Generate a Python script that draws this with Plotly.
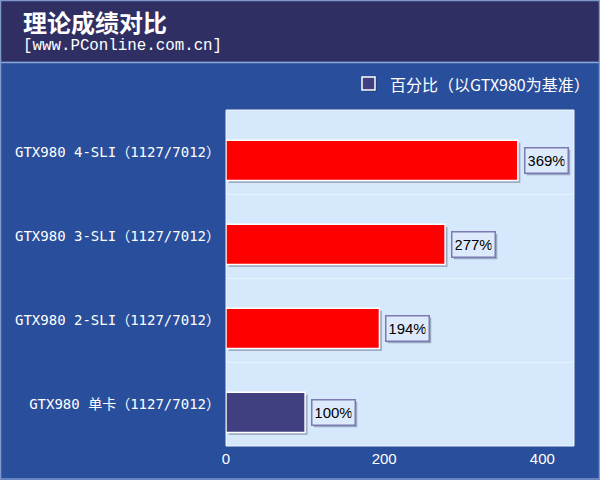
import plotly.graph_objects as go

# ---- data ----
categories = ["GTX980 单卡（1127/7012）", "GTX980 2-SLI（1127/7012）",
              "GTX980 3-SLI（1127/7012）", "GTX980 4-SLI（1127/7012）"]
percent_values = [100, 194, 277, 369]
bar_colors = ["#403F7F", "#FF0000", "#FF0000", "#FF0000"]
x_ticks = [0, 200, 400]
title_text = "理论成绩对比"
subtitle_text = "[www.PConline.com.cn]"
legend_text = "百分比（以GTX980为基准）"

# ---- layout constants ----
W, H = 600, 480
L, R, T, B = 226, 26, 110, 34
PW, PH = W - L - R, H - T - B
XMAX = 440
BAR_W = 0.477
SHIFT = -0.1  # bars sit slightly below band centres

def px2x(px):
    return (px - L) / PW

def px2y(py):
    return (H - B - py) / PH

ypos = list(range(len(categories)))
ux = XMAX / PW          # data units per pixel along x
uy = 4.0 / PH           # data units per pixel along y

fig = go.Figure()

# bar shadows
fig.add_trace(go.Bar(
    y=ypos, x=percent_values, base=2.5 * ux, orientation="h",
    width=BAR_W, offset=SHIFT - BAR_W / 2 - 2.5 * uy,
    marker=dict(color="rgba(90,100,130,0.45)", line=dict(width=0)),
    hoverinfo="skip", showlegend=False))

# bars
fig.add_trace(go.Bar(
    y=ypos, x=percent_values, orientation="h",
    width=BAR_W, offset=SHIFT - BAR_W / 2,
    marker=dict(color=bar_colors, line=dict(color="white", width=1.5)),
    showlegend=False))

# value labels
label_font = dict(family="Liberation Sans Narrow, Arial Narrow, Liberation Sans",
                  size=15, color="black")
for yv, v in zip(ypos, percent_values):
    txt = f"{v}%"
    w_box = 9 * len(txt)
    fig.add_annotation(x=v, y=yv + SHIFT, xref="x", yref="y", text="&nbsp;",
                       showarrow=False, xanchor="left", xshift=8, yshift=-2,
                       width=w_box, height=18,
                       font=dict(size=10, color="rgba(0,0,0,0)"),
                       bgcolor="rgba(80,90,120,0.45)", borderpad=3,
                       bordercolor="rgba(0,0,0,0)", borderwidth=1.5)
    fig.add_annotation(x=v, y=yv + SHIFT, xref="x", yref="y", text=txt,
                       showarrow=False, xanchor="left", xshift=6,
                       width=w_box, height=18,
                       font=label_font, bgcolor="#DCEAFB", borderpad=3,
                       bordercolor="#7C7AB2", borderwidth=1.5)

shapes = []
# header band
shapes.append(dict(type="rect", xref="paper", yref="paper",
                   x0=px2x(0), x1=px2x(W), y0=px2y(61.5), y1=px2y(0),
                   fillcolor="#2F2F64", line=dict(width=0), layer="below"))
shapes.append(dict(type="line", xref="paper", yref="paper",
                   x0=px2x(0), x1=px2x(W), y0=px2y(62.5), y1=px2y(62.5),
                   line=dict(color="#8EA6D6", width=1.5)))
# outer frame
shapes.append(dict(type="rect", xref="paper", yref="paper",
                   x0=px2x(0.5), x1=px2x(W - 0.5), y0=px2y(H - 1), y1=px2y(0.5),
                   line=dict(color="#7E98CC", width=1.5)))
# plot frame
shapes.append(dict(type="rect", xref="paper", yref="paper",
                   x0=0, x1=1, y0=0, y1=1,
                   line=dict(color="#EEF5FF", width=1), layer="below"))
# legend marker shadow + box
shapes.append(dict(type="rect", xref="paper", yref="paper",
                   x0=px2x(363.5), x1=px2x(376.5), y0=px2y(91.5), y1=px2y(78.5),
                   fillcolor="rgba(20,30,70,0.6)", line=dict(width=0)))
shapes.append(dict(type="rect", xref="paper", yref="paper",
                   x0=px2x(362), x1=px2x(375), y0=px2y(90), y1=px2y(77),
                   fillcolor="#403F7F", line=dict(color="white", width=1.5)))
fig.update_layout(shapes=shapes)

# title texts
fig.add_annotation(xref="paper", yref="paper", x=px2x(21), y=px2y(21),
                   xanchor="left", yanchor="middle", showarrow=False,
                   text=f"<b>{title_text}</b>",
                   font=dict(family="Noto Sans CJK SC", size=24, color="white"))
fig.add_annotation(xref="paper", yref="paper", x=px2x(21), y=px2y(46),
                   xanchor="left", yanchor="middle", showarrow=False,
                   text=subtitle_text,
                   font=dict(family="Liberation Mono", size=15.8, color="white"))
fig.add_annotation(xref="paper", yref="paper", x=px2x(388), y=px2y(84),
                   xanchor="left", yanchor="middle", showarrow=False,
                   text=legend_text,
                   font=dict(family="Noto Sans CJK SC", size=16, color="white"))

fig.update_layout(
    width=W, height=H,
    margin=dict(l=L, r=R, t=T, b=B, pad=0),
    paper_bgcolor="#294E9B",
    plot_bgcolor="#D6E9FC",
    barmode="overlay",
    showlegend=False,
    xaxis=dict(range=[0, XMAX], tickvals=x_ticks, showgrid=False, zeroline=False,
               showline=False, ticks="", ticklabelstandoff=2,
               tickfont=dict(family="Liberation Sans", size=15, color="white"),
               fixedrange=True),
    yaxis=dict(range=[-0.5, 3.5], tickvals=ypos, ticktext=categories,
               showgrid=False, zeroline=False, showline=False, ticks="",
               ticklabelstandoff=5,
               minor=dict(tickvals=[0.5, 1.5, 2.5], showgrid=True,
                          gridcolor="#E8F2FD", gridwidth=1, ticks=""),
               tickfont=dict(family="DejaVu Sans Mono, Noto Sans CJK SC",
                             size=14, color="white"),
               fixedrange=True),
)

fig.write_html("out.html", config={"displayModeBar": False},
               post_script="document.body.style.margin='0px';")
